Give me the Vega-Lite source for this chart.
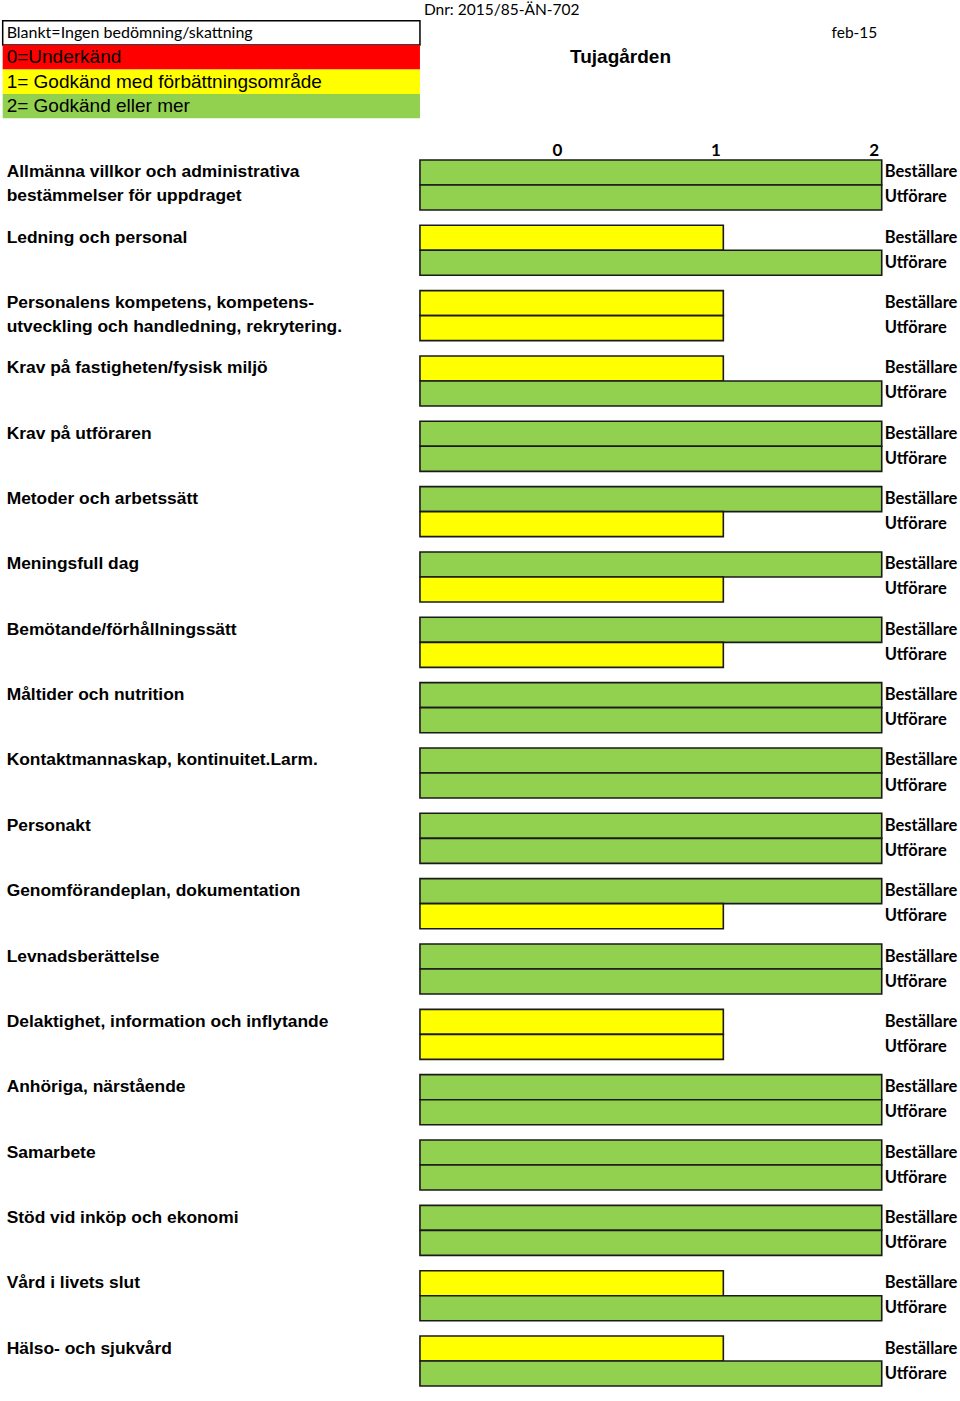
{
  "$schema": "https://vega.github.io/schema/vega-lite/v6.json",
  "padding": 0,
  "spacing": 0,
  "bounds": "flush",
  "background": "white",
  "config": {
    "view": {"stroke": null},
    "style": {"guide-label": {"font": "Lato", "fontWeight": "bold", "fontSize": 17, "fill": "#000000"}},
    "axis": {"labelFont": "Lato", "labelFontWeight": "bold", "labelFontSize": 17, "labelColor": "#000000", "ticks": false, "domain": false, "grid": false},
    "axisX": {"labelFontSize": 17}
  },
  "resolve": {"scale": {"x": "independent", "y": "independent", "fill": "independent"}},
  "datasets": {
    "legend": [
      {"code": "Blankt", "text": "Blankt=Ingen bedömning/skattning"},
      {"code": "0", "text": "0=Underkänd"},
      {"code": "1", "text": "1= Godkänd med förbättningsområde"},
      {"code": "2", "text": "2= Godkänd eller mer"}
    ],
    "scores": [
      {"cat": "Allmänna villkor och administrativa\nbestämmelser för uppdraget", "role": "Beställare", "value": 2},
      {"cat": "Allmänna villkor och administrativa\nbestämmelser för uppdraget", "role": "Utförare", "value": 2},
      {"cat": "Ledning och personal", "role": "Beställare", "value": 1},
      {"cat": "Ledning och personal", "role": "Utförare", "value": 2},
      {"cat": "Personalens kompetens, kompetens-\nutveckling och handledning, rekrytering.", "role": "Beställare", "value": 1},
      {"cat": "Personalens kompetens, kompetens-\nutveckling och handledning, rekrytering.", "role": "Utförare", "value": 1},
      {"cat": "Krav på fastigheten/fysisk miljö", "role": "Beställare", "value": 1},
      {"cat": "Krav på fastigheten/fysisk miljö", "role": "Utförare", "value": 2},
      {"cat": "Krav på utföraren", "role": "Beställare", "value": 2},
      {"cat": "Krav på utföraren", "role": "Utförare", "value": 2},
      {"cat": "Metoder och arbetssätt", "role": "Beställare", "value": 2},
      {"cat": "Metoder och arbetssätt", "role": "Utförare", "value": 1},
      {"cat": "Meningsfull dag", "role": "Beställare", "value": 2},
      {"cat": "Meningsfull dag", "role": "Utförare", "value": 1},
      {"cat": "Bemötande/förhållningssätt", "role": "Beställare", "value": 2},
      {"cat": "Bemötande/förhållningssätt", "role": "Utförare", "value": 1},
      {"cat": "Måltider och nutrition", "role": "Beställare", "value": 2},
      {"cat": "Måltider och nutrition", "role": "Utförare", "value": 2},
      {"cat": "Kontaktmannaskap, kontinuitet.Larm.", "role": "Beställare", "value": 2},
      {"cat": "Kontaktmannaskap, kontinuitet.Larm.", "role": "Utförare", "value": 2},
      {"cat": "Personakt", "role": "Beställare", "value": 2},
      {"cat": "Personakt", "role": "Utförare", "value": 2},
      {"cat": "Genomförandeplan, dokumentation", "role": "Beställare", "value": 2},
      {"cat": "Genomförandeplan, dokumentation", "role": "Utförare", "value": 1},
      {"cat": "Levnadsberättelse", "role": "Beställare", "value": 2},
      {"cat": "Levnadsberättelse", "role": "Utförare", "value": 2},
      {"cat": "Delaktighet, information och inflytande", "role": "Beställare", "value": 1},
      {"cat": "Delaktighet, information och inflytande", "role": "Utförare", "value": 1},
      {"cat": "Anhöriga, närstående", "role": "Beställare", "value": 2},
      {"cat": "Anhöriga, närstående", "role": "Utförare", "value": 2},
      {"cat": "Samarbete", "role": "Beställare", "value": 2},
      {"cat": "Samarbete", "role": "Utförare", "value": 2},
      {"cat": "Stöd vid inköp och ekonomi", "role": "Beställare", "value": 2},
      {"cat": "Stöd vid inköp och ekonomi", "role": "Utförare", "value": 2},
      {"cat": "Vård i livets slut", "role": "Beställare", "value": 1},
      {"cat": "Vård i livets slut", "role": "Utförare", "value": 2},
      {"cat": "Hälso- och sjukvård", "role": "Beställare", "value": 1},
      {"cat": "Hälso- och sjukvård", "role": "Utförare", "value": 2}
    ]
  },
  "vconcat": [
    {
      "width": 960,
      "height": 158,
      "layer": [
        {
          "data": {"name": "legend"},
          "mark": {"type": "rect", "strokeWidth": 1.5},
          "encoding": {
            "x": {"datum": -3.549, "type": "quantitative", "scale": {"domain": [-3.566, 2.494], "nice": false, "zero": false}, "axis": null},
            "x2": {"datum": -0.915},
            "y": {"field": "code", "type": "nominal", "sort": null, "scale": {"domain": ["Blankt", "0", "1", "2"], "range": [20.7, 118.3], "paddingInner": 0, "paddingOuter": 0}, "axis": null},
            "fill": {"field": "code", "type": "nominal", "scale": {"domain": ["Blankt", "0", "1", "2"], "range": ["#ffffff", "#ff0000", "#ffff00", "#92d050"]}, "legend": null},
            "stroke": {"condition": {"test": "datum.code === 'Blankt'", "value": "#000000"}, "value": null}
          }
        },
        {
          "data": {"name": "legend"},
          "transform": [{"filter": "datum.code === 'Blankt'"}],
          "mark": {"type": "text", "align": "left", "baseline": "middle", "font": "Lato", "fontSize": 16, "color": "#000000"},
          "encoding": {
            "x": {"datum": -3.524, "type": "quantitative", "axis": null},
            "y": {"field": "code", "type": "nominal", "axis": null},
            "text": {"field": "text", "type": "nominal"}
          }
        },
        {
          "data": {"name": "legend"},
          "transform": [{"filter": "datum.code !== 'Blankt'"}],
          "mark": {"type": "text", "align": "left", "baseline": "middle", "font": "Liberation Sans", "fontSize": 19, "color": "#000000"},
          "encoding": {
            "x": {"datum": -3.524, "type": "quantitative", "axis": null},
            "y": {"field": "code", "type": "nominal", "axis": null},
            "text": {"field": "text", "type": "nominal"}
          }
        },
        {
          "data": {"values": [{}]},
          "mark": {"type": "text", "align": "left", "baseline": "middle", "font": "Lato", "fontSize": 15.5, "color": "#000000", "dy": -22.5},
          "encoding": {
            "x": {"datum": -0.89, "type": "quantitative", "axis": null},
            "y": {"datum": "Blankt", "type": "nominal", "axis": null},
            "text": {"value": "Dnr: 2015/85-ÄN-702"}
          }
        },
        {
          "data": {"values": [{}]},
          "mark": {"type": "text", "align": "right", "baseline": "middle", "font": "Lato", "fontSize": 15.5, "color": "#000000"},
          "encoding": {
            "x": {"datum": 1.972, "type": "quantitative", "axis": null},
            "y": {"datum": "Blankt", "type": "nominal", "axis": null},
            "text": {"value": "feb-15"}
          }
        },
        {
          "data": {"values": [{}]},
          "mark": {"type": "text", "align": "center", "baseline": "middle", "font": "Liberation Sans", "fontWeight": "bold", "fontSize": 19, "color": "#000000"},
          "encoding": {
            "x": {"datum": 0.351, "type": "quantitative", "axis": null},
            "y": {"datum": "0", "type": "nominal", "axis": null},
            "text": {"value": "Tujagården"}
          }
        }
      ]
    },
    {
      "width": 960,
      "height": 1230,
      "data": {"name": "scores"},
      "layer": [
        {
          "mark": {"type": "bar", "stroke": "#1a1a1a", "strokeWidth": 1.6},
          "encoding": {
            "y": {"field": "cat", "type": "nominal", "sort": null, "scale": {"paddingInner": 0.2343, "paddingOuter": 0.03}, "axis": null},
            "yOffset": {"field": "role", "type": "nominal", "scale": {"domain": ["Beställare", "Utförare"], "paddingInner": 0, "paddingOuter": 0}},
            "x": {"field": "value", "type": "quantitative", "scale": {"domain": [-3.566, 2.494], "nice": false, "zero": false},
              "axis": {"orient": "top", "values": [0, 1, 2], "title": null, "labelOffset": -8, "labelBaseline": "middle", "labelPadding": 8, "labelFontSize": 17, "labelFont": "Lato", "labelFontWeight": "bold"}},
            "x2": {"datum": -0.915},
            "fill": {"field": "value", "type": "nominal", "scale": {"domain": [0, 1, 2], "range": ["#ff0000", "#ffff00", "#92d050"]}, "legend": null}
          }
        },
        {
          "mark": {"type": "text", "align": "left", "baseline": "middle", "font": "Lato", "fontWeight": "bold", "fontSize": 16.5, "color": "#000000", "dx": 3},
          "encoding": {
            "y": {"field": "cat", "type": "nominal", "sort": null, "axis": null},
            "yOffset": {"field": "role", "type": "nominal"},
            "x": {"datum": 2, "type": "quantitative",
              "axis": {"orient": "top", "values": [0, 1, 2], "title": null, "labelOffset": -8, "labelBaseline": "middle", "labelPadding": 8, "labelFontSize": 17, "labelFont": "Lato", "labelFontWeight": "bold"}},
            "text": {"field": "role", "type": "nominal"}
          }
        },
        {
          "transform": [{"filter": "datum.role === 'Beställare'"}],
          "mark": {"type": "text", "align": "left", "baseline": "middle", "font": "Liberation Sans", "fontWeight": "bold", "fontSize": 17.4, "lineHeight": 23.5, "lineBreak": "\n", "color": "#000000"},
          "encoding": {
            "y": {"field": "cat", "type": "nominal", "sort": null, "axis": null},
            "yOffset": {"datum": "Beställare", "type": "nominal"},
            "x": {"datum": -3.524, "type": "quantitative",
              "axis": {"orient": "top", "values": [0, 1, 2], "title": null, "labelOffset": -8, "labelBaseline": "middle", "labelPadding": 8, "labelFontSize": 17, "labelFont": "Lato", "labelFontWeight": "bold"}},
            "text": {"field": "cat", "type": "nominal"}
          }
        }
      ]
    }
  ]
}
